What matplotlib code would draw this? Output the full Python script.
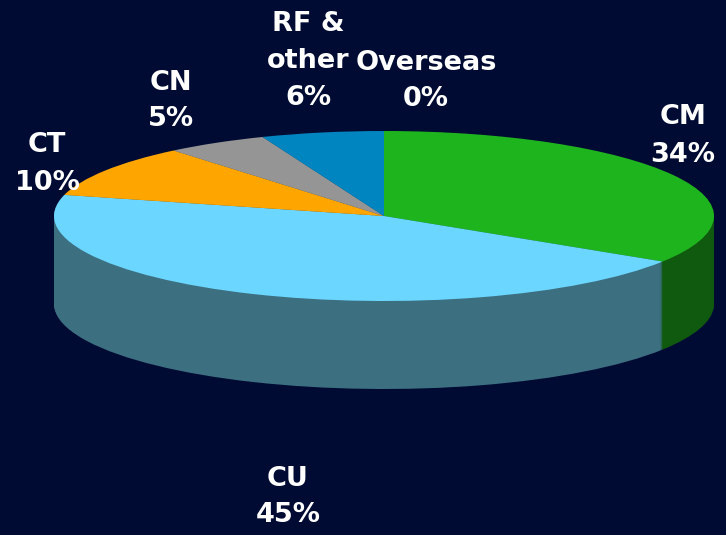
import matplotlib
matplotlib.use('Agg')
import matplotlib.pyplot as plt

# slices, clockwise from 12 o'clock
labels = ['CM', 'CU', 'CT', 'CN', 'RF &\nother', 'Overseas']
values = [34, 45, 10, 5, 6, 0]
percent = ['34%', '45%', '10%', '5%', '6%', '0%']
top_colors = ['#1EB41E', '#6BD6FF', '#FFA500', '#959595', '#0085C0', '#0085C0']
side_colors = ['#0F5A0F', '#3C6F80', '#805300', '#4B4B4B', '#004360', '#004360']
label_pos = [(683, 136), (288, 497), (47, 164), (171, 101), (308, 61), (426, 81)]

bg = '#000B33'
cx, cy = 384, 216
rx, ry = 330, 85
depth = 88

fig = plt.figure(figsize=(7.26, 5.35), dpi=100, facecolor=bg)
ax = fig.add_axes([0, 0, 1, 1])

# side wall is the same pie stacked up pixel by pixel
for d in range(depth, 0, -1):
    ax.pie(values, colors=side_colors, startangle=90, counterclock=False,
           center=(0, -d / ry), radius=1, wedgeprops={'linewidth': 0})
ax.pie(values, colors=top_colors, startangle=90, counterclock=False,
       center=(0, 0), radius=1, wedgeprops={'linewidth': 0})

ax.set_aspect('auto')
ax.set_frame_on(False)
ax.set_xlim(-cx / rx, (726 - cx) / rx)
ax.set_ylim((cy - 535) / ry, cy / ry)

for lab, pct, (px, py) in zip(labels, percent, label_pos):
    ax.text((px - cx) / rx, (cy - py) / ry, lab + '\n' + pct, color='white',
            ha='center', va='center', fontsize=19.5, fontweight='bold',
            family='DejaVu Sans', linespacing=1.55)

fig.savefig('out.png', dpi=100, facecolor=bg)
